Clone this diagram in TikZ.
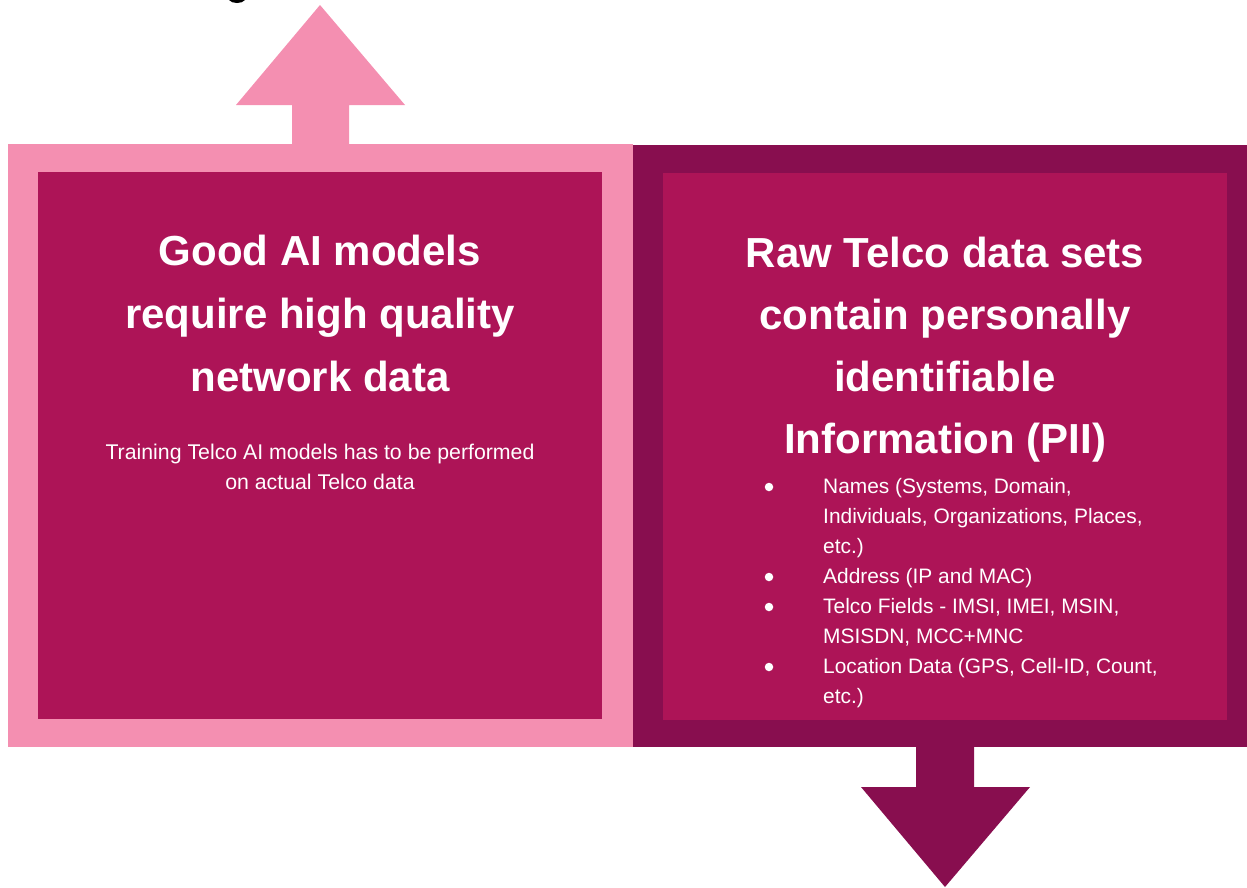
\documentclass[tikz,border=0pt]{standalone}
\usepackage{fontspec}
\setmainfont{Liberation Sans}
\definecolor{pinkc}{HTML}{F48FB1}
\definecolor{rosec}{HTML}{AD1457}
\definecolor{darkc}{HTML}{880E4F}
\begin{document}
\begin{tikzpicture}[x=1pt,y=-1pt,
  title/.style={text=white,font=\fontsize{42}{63}\selectfont\bfseries,align=center,inner sep=0pt},
  rtitle/.style={text=white,font=\fontsize{42}{62}\selectfont\bfseries,align=center,inner sep=0pt},
  body/.style={text=white,font=\fontsize{21.3}{30}\selectfont,align=center,inner sep=0pt},
  listtext/.style={text=white,font=\fontsize{20.9}{30}\selectfont,align=left,inner sep=0pt},
  bul/.style={circle,fill=white,inner sep=0pt,minimum size=8.5pt}]
\useasboundingbox (0,0) rectangle (1247,887);
% stray fragment at top
\fill[black] (229,0) .. controls (232,4) and (242,4) .. (245,0) -- cycle;
% up arrow
\fill[pinkc] (292,146) -- (292,105) -- (236,105) -- (320,5) -- (405,105) -- (349,105) -- (349,146) -- cycle;
% down arrow
\fill[darkc] (916,745) -- (916,787) -- (861,787) -- (945,887) -- (1030,787) -- (974,787) -- (974,745) -- cycle;
% left box
\fill[pinkc] (8,144) rectangle (633,747);
\fill[rosec] (38,172) rectangle (602,719);
% right box
\fill[darkc] (633,145) rectangle (1247,747);
\fill[rosec] (663,173) rectangle (1227,720);
% texts
\node[title] (lt) at (320,313) {Good AI models\\require high quality\\network data};
\node[body] (lb) at (320,467) {Training Telco AI models has to be performed\\on actual Telco data};
\node[rtitle] (rt) at (945,350) {Raw Telco data sets\\contain personally\\identifiable\\Information (PII)};
\node[listtext,anchor=west] (rl) at (823,593) {Names (Systems, Domain,\\Individuals, Organizations, Places,\\etc.)\\Address (IP and MAC)\\Telco Fields - IMSI, IMEI, MSIN,\\MSISDN, MCC+MNC\\Location Data (GPS, Cell-ID, Count,\\etc.)};
\node[bul] (b1) at (769,487) {};
\node[bul] (b2) at (769,577) {};
\node[bul] (b3) at (769,607) {};
\node[bul] (b4) at (769,667) {};
\end{tikzpicture}
\end{document}
